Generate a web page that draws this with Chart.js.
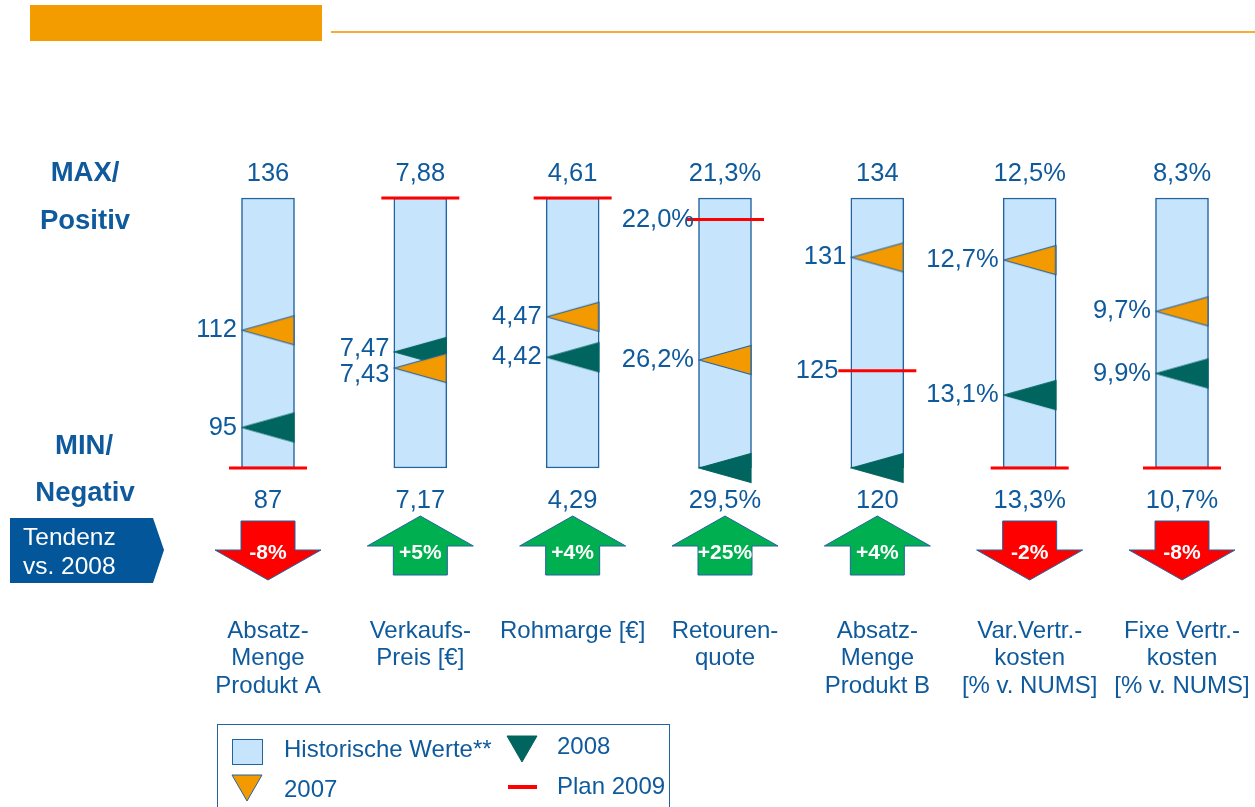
<!DOCTYPE html>
<html>
<head>
<meta charset="utf-8">
<script src="https://cdn.jsdelivr.net/npm/chart.js@4/dist/chart.umd.min.js"></script>
<style>
  html, body { margin: 0; padding: 0; background: #fff; }
  #wrap { position: relative; width: 1255px; height: 807px; }
</style>
</head>
<body>
<div id="wrap"><canvas id="kpiChart" width="1255" height="807"></canvas></div>
<script>
// KPI-Übersicht: historische Spanne je Kennzahl mit 2007 / 2008 / Plan 2009

const categories = [
    ['Absatz-', 'Menge', 'Produkt A'],
    ['Verkaufs-', 'Preis [€]'],
    ['Rohmarge [€]'],
    ['Retouren-', 'quote'],
    ['Absatz-', 'Menge', 'Produkt B'],
    ['Var.Vertr.-', 'kosten', '[% v. NUMS]'],
    ['Fixe Vertr.-', 'kosten', '[% v. NUMS]']
];

// Max (oben) und Min (unten) der historischen Werte
const maxValues = [136, 7.88, 4.61, 21.3, 134, 12.5, 8.3];
const minValues = [87, 7.17, 4.29, 29.5, 120, 13.3, 10.7];
const decimals = [0, 2, 2, 1, 0, 1, 1];
const isPercent = [false, false, false, true, false, true, true];

// Ist-Werte und Plan
const values2007 = [112, 7.43, 4.47, 26.2, 131, 12.7, 9.7];
const values2008 = [95, 7.47, 4.42, 29.5, 120, 13.1, 9.9];
const valuesPlan = [87, 7.88, 4.61, 22.0, 125, 13.3, 10.7];

// Lage innerhalb der historischen Spanne (0 = MIN/Negativ, 100 = MAX/Positiv)
const pos2007 = [51, 37, 56, 40, 78, 77, 58];
const pos2008 = [15, 43, 41, 0, 0, 27, 35];
const posPlan = [0, 100, 100, 92, 36, 0, 0];

// Welche Werte links neben der Säule beschriftet werden
const show2007 = [true, true, true, true, true, true, true];
const show2008 = [true, true, true, false, false, true, true];
const showPlan = [false, false, false, true, true, false, false];

// Tendenz vs. 2008 in %
const tendency = [-8, 5, 4, 25, 4, -2, -8];

const TEXT = '#0f5a9c';
const BORDER = '#2263a1';
const FONT = '"Liberation Sans", Arial, sans-serif';

function fmt(i, v) {
    return v.toFixed(decimals[i]).replace('.', ',') + (isPercent[i] ? '%' : '');
}

function makeTriangle(fill, stroke) {
    const c = document.createElement('canvas');
    c.width = 54;
    c.height = 32;
    const g = c.getContext('2d');
    g.beginPath();
    g.moveTo(1, 16);
    g.lineTo(53, 1.5);
    g.lineTo(53, 30.5);
    g.closePath();
    g.fillStyle = fill;
    g.fill();
    g.strokeStyle = stroke;
    g.lineWidth = 1.2;
    g.stroke();
    return c;
}

const tri2007 = makeTriangle('#f39a00', BORDER);
const tri2008 = makeTriangle('#00645f', '#00645f');

const decorations = {
    id: 'decorations',
    afterDatasetsDraw(chart) {
        const ctx = chart.ctx;
        const xs = chart.scales.x;
        const ys = chart.scales.y;
        ctx.save();

        // Kopfzeile
        ctx.fillStyle = '#f39c00';
        ctx.fillRect(30, 5, 292, 36);
        ctx.strokeStyle = '#f6ad33';
        ctx.lineWidth = 2;
        ctx.beginPath();
        ctx.moveTo(331, 32);
        ctx.lineTo(1255, 32);
        ctx.stroke();

        // MAX / MIN Beschriftung links
        ctx.fillStyle = TEXT;
        ctx.font = 'bold 27.5px ' + FONT;
        ctx.textAlign = 'center';
        ctx.textBaseline = 'middle';
        ctx.fillText('MAX/', 85, 173);
        ctx.fillText('Positiv', 85, 221);
        ctx.fillText('MIN/', 84, 446);
        ctx.fillText('Negativ', 85, 493);

        categories.forEach((cat, i) => {
            const x = xs.getPixelForValue(i);
            ctx.font = '25.5px ' + FONT;
            ctx.textAlign = 'center';
            ctx.fillStyle = TEXT;
            ctx.fillText(fmt(i, maxValues[i]), x, ys.getPixelForValue(100) - 24);
            ctx.fillText(fmt(i, minValues[i]), x, ys.getPixelForValue(0) + 33);

            ctx.textAlign = 'right';
            const left = x - 31;
            if (show2007[i]) {
                let y = ys.getPixelForValue(pos2007[i]);
                if (i === 1) y += 7;
                ctx.fillText(fmt(i, values2007[i]), left, y);
            }
            if (show2008[i]) {
                let y = ys.getPixelForValue(pos2008[i]);
                if (i === 1) y -= 3;
                ctx.fillText(fmt(i, values2008[i]), left, y);
            }
            if (showPlan[i]) {
                ctx.fillText(fmt(i, valuesPlan[i]), left - (i === 4 ? 8 : 0), ys.getPixelForValue(posPlan[i]));
            }

            // Kategorie
            ctx.font = '24px ' + FONT;
            ctx.textAlign = 'center';
            cat.forEach((line, k) => ctx.fillText(line, x, 631 + k * 27.5));

            // Tendenzpfeil
            const t = tendency[i];
            ctx.beginPath();
            if (t < 0) {
                ctx.moveTo(x - 27, 521);
                ctx.lineTo(x + 27, 521);
                ctx.lineTo(x + 27, 550);
                ctx.lineTo(x + 53, 550);
                ctx.lineTo(x, 580);
                ctx.lineTo(x - 53, 550);
                ctx.lineTo(x - 27, 550);
            } else {
                ctx.moveTo(x, 516);
                ctx.lineTo(x + 53, 546);
                ctx.lineTo(x + 27, 546);
                ctx.lineTo(x + 27, 575);
                ctx.lineTo(x - 27, 575);
                ctx.lineTo(x - 27, 546);
                ctx.lineTo(x - 53, 546);
            }
            ctx.closePath();
            ctx.fillStyle = t < 0 ? '#ff0000' : '#00b050';
            ctx.fill();
            ctx.strokeStyle = BORDER;
            ctx.lineWidth = 1;
            ctx.stroke();
            ctx.fillStyle = '#fff';
            ctx.font = 'bold 21px ' + FONT;
            ctx.fillText((t > 0 ? '+' : '') + t + '%', x, 553);
        });

        // Tendenz-Kasten
        ctx.fillStyle = '#035699';
        ctx.beginPath();
        ctx.moveTo(10, 518);
        ctx.lineTo(153, 518);
        ctx.lineTo(164, 550);
        ctx.lineTo(153, 583);
        ctx.lineTo(10, 583);
        ctx.closePath();
        ctx.fill();
        ctx.fillStyle = '#fff';
        ctx.textAlign = 'left';
        ctx.font = '24.5px ' + FONT;
        ctx.fillText('Tendenz', 23, 538);
        ctx.fillText('vs. 2008', 23, 567);

        // Legende
        const ds = chart.data.datasets;
        ctx.strokeStyle = BORDER;
        ctx.lineWidth = 1;
        ctx.strokeRect(217.5, 724.5, 452, 100);
        ctx.fillStyle = '#c6e4fb';
        ctx.fillRect(232, 739, 30, 25);
        ctx.strokeRect(232.5, 739.5, 30, 25);

        const downTri = (x, y, fill, stroke) => {
            ctx.beginPath();
            ctx.moveTo(x - 15, y);
            ctx.lineTo(x + 15, y);
            ctx.lineTo(x, y + 26);
            ctx.closePath();
            ctx.fillStyle = fill;
            ctx.fill();
            ctx.strokeStyle = stroke;
            ctx.stroke();
        };
        downTri(522, 736, '#00645f', '#00645f');
        downTri(247, 775, '#f39a00', BORDER);
        ctx.strokeStyle = '#ff0000';
        ctx.lineWidth = 4;
        ctx.beginPath();
        ctx.moveTo(508, 787);
        ctx.lineTo(537, 787);
        ctx.stroke();

        ctx.fillStyle = TEXT;
        ctx.font = '24px ' + FONT;
        ctx.textAlign = 'left';
        ctx.fillText(ds[0].label, 284, 750);
        ctx.fillText(ds[2].label, 557, 747);
        ctx.fillText(ds[1].label, 284, 790);
        ctx.fillText(ds[3].label, 557, 787);

        ctx.restore();
    }
};

const ctx = document.getElementById('kpiChart').getContext('2d');
new Chart(ctx, {
    type: 'bar',
    data: {
        labels: categories,
        datasets: [
            {
                label: 'Historische Werte**',
                data: categories.map(() => [0, 100]),
                backgroundColor: '#c6e4fb',
                borderColor: BORDER,
                borderWidth: 1.5,
                borderSkipped: false,
                barThickness: 53,
                clip: false,
                order: 3
            },
            {
                type: 'line',
                label: '2007',
                data: pos2007,
                showLine: false,
                pointStyle: tri2007,
                clip: false,
                order: 1
            },
            {
                type: 'line',
                label: '2008',
                data: pos2008,
                showLine: false,
                pointStyle: tri2008,
                clip: false,
                order: 1
            },
            {
                type: 'line',
                label: 'Plan 2009',
                data: posPlan,
                showLine: false,
                pointStyle: 'line',
                pointRadius: 39,
                pointBorderWidth: 3,
                borderColor: '#ff0000',
                clip: false,
                order: 0
            }
        ]
    },
    options: {
        responsive: false,
        animation: false,
        events: [],
        layout: {
            padding: { left: 268, right: 73, top: 198, bottom: 339 }
        },
        plugins: {
            legend: { display: false },
            tooltip: { enabled: false }
        },
        scales: {
            x: { display: false, offset: false },
            y: { display: false, min: 0, max: 100 }
        }
    },
    plugins: [decorations]
});
</script>
</body>
</html>
